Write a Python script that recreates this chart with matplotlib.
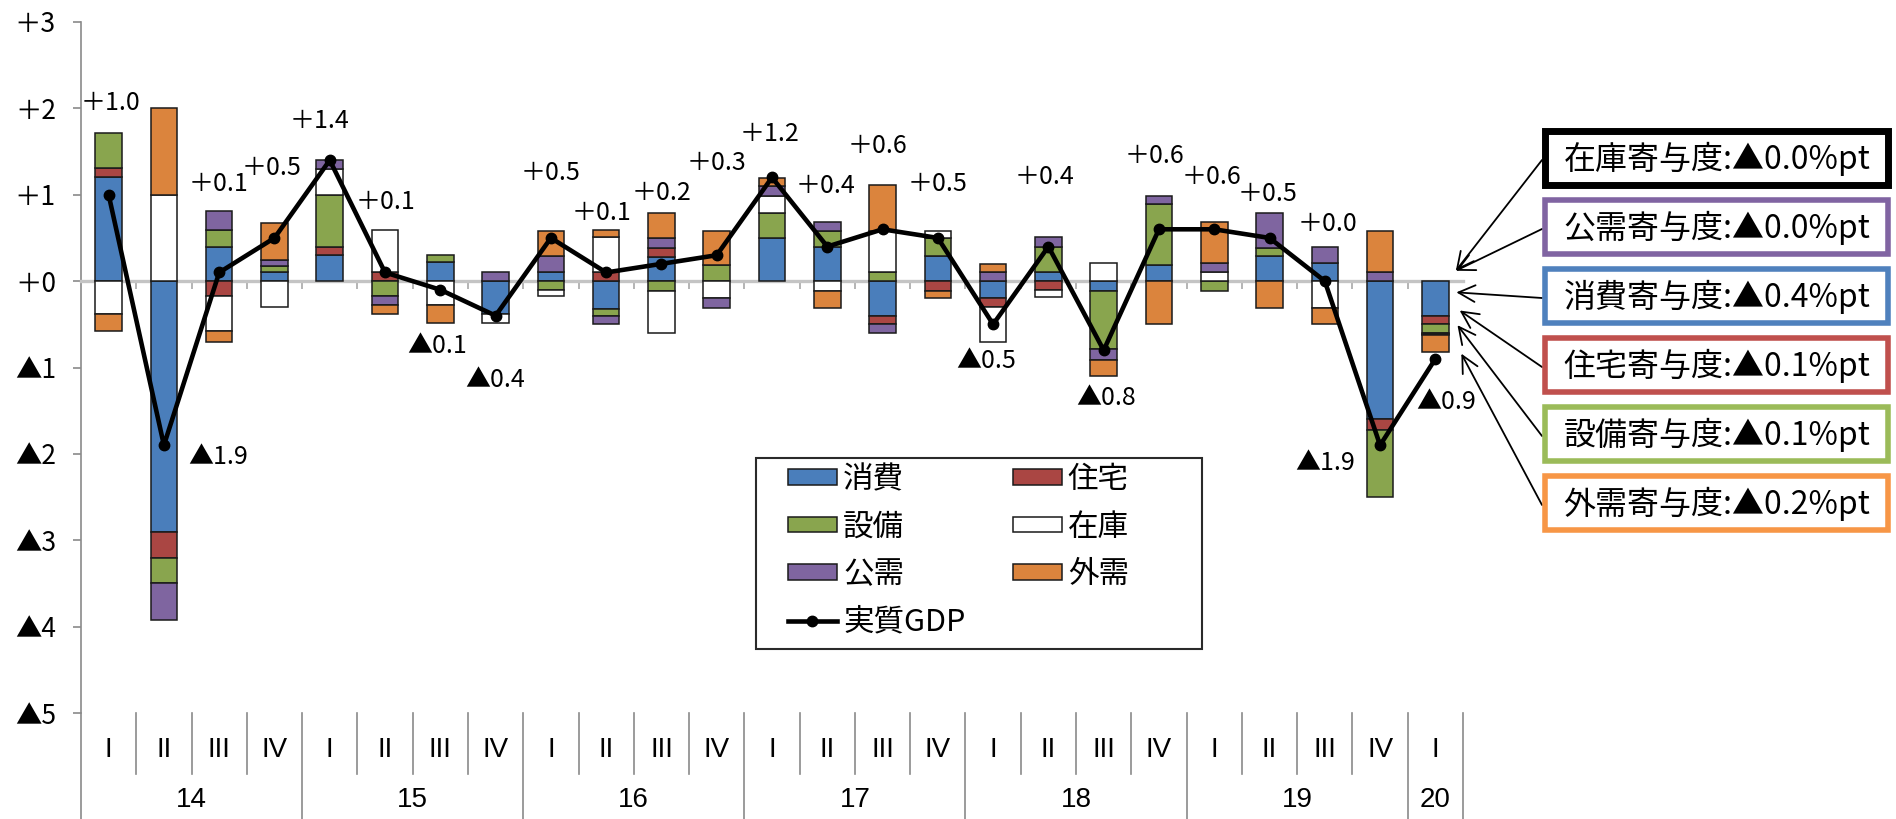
"""Real GDP growth (q/q) and contributions by demand component, 2014 I - 2020 I."""

import numpy as np
import matplotlib.pyplot as plt
from matplotlib.patches import Patch, Rectangle
from matplotlib.lines import Line2D

plt.rcParams['font.family'] = ['Liberation Sans', 'Noto Sans CJK JP', 'DejaVu Sans']

quarters = ['I', 'II', 'III', 'IV'] * 6 + ['I']
years = ['14', '15', '16', '17', '18', '19', '20']
year_spans = [4, 4, 4, 4, 4, 4, 1]

# contribution to q/q growth, %pt
consumption = [1.2, -2.9, 0.4, 0.1, 0.3, 0.0, 0.22, -0.38, 0.1, -0.32, 0.28, 0.0,
               0.5, 0.39, -0.4, 0.29, -0.2, 0.1, -0.12, 0.19, 0.0, 0.29, 0.21, -1.6, -0.4]
housing = [0.11, -0.3, -0.17, 0.0, 0.1, 0.1, 0.0, 0.0, 0.0, 0.1, 0.1, 0.0,
           0.0, 0.0, -0.1, -0.12, -0.1, -0.1, 0.0, 0.0, 0.0, 0.0, 0.0, -0.12, -0.1]
equipment = [0.41, -0.3, 0.19, 0.08, 0.6, -0.17, 0.08, 0.0, -0.1, -0.08, -0.12, 0.19,
             0.29, 0.19, 0.1, 0.21, 0.0, 0.29, -0.67, 0.7, -0.12, 0.09, 0.0, -0.78, -0.1]
inventory = [-0.38, 1.0, -0.41, -0.3, 0.3, 0.49, -0.28, -0.1, -0.07, 0.41, -0.48, -0.19,
             0.19, -0.12, 0.48, 0.08, -0.4, -0.08, 0.21, 0.0, 0.1, 0.0, -0.31, 0.0, -0.01]
public = [0.0, -0.42, 0.22, 0.07, 0.1, -0.11, 0.0, 0.11, 0.19, -0.1, 0.12, -0.12,
          0.12, 0.11, -0.1, 0.0, 0.1, 0.12, -0.12, 0.1, 0.11, 0.41, 0.18, 0.1, -0.01]
external = [-0.2, 1.0, -0.12, 0.42, 0.0, -0.1, -0.2, 0.0, 0.29, 0.08, 0.29, 0.39,
            0.09, -0.19, 0.53, -0.07, 0.1, 0.0, -0.19, -0.5, 0.48, -0.31, -0.19, 0.48, -0.2]

# real GDP, q/q %
gdp = [1.0, -1.9, 0.1, 0.5, 1.4, 0.1, -0.1, -0.4, 0.5, 0.1, 0.2, 0.3,
       1.2, 0.4, 0.6, 0.5, -0.5, 0.4, -0.8, 0.6, 0.6, 0.5, 0.0, -1.9, -0.9]

series = [consumption, housing, equipment, inventory, public, external]
series_names = ['消費', '住宅', '設備', '在庫', '公需', '外需']
series_colors = ['#4a7ebb', '#aa4643', '#89a54e', '#ffffff', '#7f65a0', '#db843d']

# where each GDP label sits relative to its point (data units)
label_offsets = [(0.04, 1.06), (0.98, -0.14), (-0.02, 1.03), (-0.06, 0.81), (-0.18, 0.45),
                 (0.01, 0.82), (-0.06, -0.65), (0.0, -0.75), (0.0, 0.75), (-0.08, 0.69),
                 (0.0, 0.82), (0.0, 1.07), (-0.04, 0.50), (-0.04, 0.70), (-0.09, 0.96),
                 (-0.01, 0.63), (-0.12, -0.42), (-0.07, 0.80), (0.05, -0.55), (-0.08, 0.85),
                 (-0.05, 0.60), (-0.04, 0.51), (0.05, 0.66), (-1.0, -0.2), (0.2, -0.5)]

W, H = 1896, 819
NUM_FONT = ['Noto Sans CJK JP', 'DejaVu Sans']
JP_FONT = ['Noto Sans CJK JP', 'DejaVu Sans']
CAT_FONT = ['Liberation Sans Narrow', 'Liberation Sans']
AXIS_GRAY = '#8a8a8a'


def fig_xy(px, py):
    """Pixel position (from top-left) to figure fraction."""
    return px / W, 1 - py / H


def fmt(v, digits=1):
    sign = '▲' if v < 0 else '＋'
    return f'{sign}{abs(v):.{digits}f}'


fig = plt.figure(figsize=(W / 100, H / 100), dpi=100)
ax = fig.add_axes([81 / W, 1 - 713 / H, (1463 - 81) / W, (713 - 22) / H])

x = np.arange(len(quarters))
pos_base = np.zeros(len(x))
neg_base = np.zeros(len(x))
for vals, color in zip(series, series_colors):
    vals = np.array(vals)
    base = np.where(vals >= 0, pos_base, neg_base)
    nz = vals != 0
    ax.bar(x[nz], vals[nz], bottom=base[nz], width=0.48, color=color,
           edgecolor='#1a1a1a', linewidth=1.1, zorder=3)
    pos_base += np.where(vals > 0, vals, 0)
    neg_base += np.where(vals < 0, vals, 0)

ax.plot(x, gdp, color='black', lw=3.3, marker='o', ms=7.5, zorder=5)

for i, (v, (dx, dy)) in enumerate(zip(gdp, label_offsets)):
    ax.text(i + dx, v + dy, fmt(v), ha='center', va='center', fontsize=18,
            family=NUM_FONT, zorder=6)

ax.set_xlim(-0.5, len(x) - 0.5)
ax.set_ylim(-5, 3)
for side in ['top', 'right']:
    ax.spines[side].set_visible(False)
ax.spines['bottom'].set_position(('data', 0))
ax.spines['bottom'].set_color('#c4c4c4')
ax.spines['bottom'].set_linewidth(2.4)
ax.spines['left'].set_color(AXIS_GRAY)
ax.spines['left'].set_linewidth(1.2)

ax.set_xticks(np.arange(0.5, len(x) - 1, 1))
ax.set_xticklabels([])
ax.tick_params(axis='x', direction='out', length=6, width=1.2, color='#a8a8a8')

yt = np.arange(-5, 4)
ax.set_yticks(yt)
ax.set_yticklabels([fmt(v, 0) for v in yt], family=NUM_FONT, fontsize=19)
ax.tick_params(axis='y', direction='out', length=6, width=1.2, color=AXIS_GRAY, pad=12)

# quarter / year category labels under the plot
trans = ax.get_xaxis_transform()
q_drop = (774 - 713) / (713 - 22)
y_drop = (819 - 713) / (713 - 22)
year_edges = np.concatenate([[0], np.cumsum(year_spans)]) - 0.5
for b in np.arange(0.5, len(x) - 1, 1):
    if b not in year_edges:
        ax.plot([b, b], [0, -q_drop], transform=trans, color=AXIS_GRAY, lw=1.2, clip_on=False)
for b in year_edges:
    ax.plot([b, b], [0, -y_drop], transform=trans, color=AXIS_GRAY, lw=1.2, clip_on=False)
for i, q in enumerate(quarters):
    ax.text(i, -(750 - 713) / (713 - 22), q, transform=trans, ha='center', va='center',
            fontsize=20, family=CAT_FONT)
for yr, lo, hi in zip(years, year_edges[:-1], year_edges[1:]):
    ax.text((lo + hi) / 2, -(800 - 713) / (713 - 22), yr, transform=trans, ha='center',
            va='center', fontsize=20, family=CAT_FONT)

# legend
patches = [Patch(facecolor=c, edgecolor='#1a1a1a', lw=1.1) for c in series_colors]
gdp_handle = Line2D([], [], color='black', lw=3.3, marker='o', ms=7.5)
handles = [patches[0], patches[2], patches[4], gdp_handle, patches[1], patches[3], patches[5]]
labels = [series_names[0], series_names[2], series_names[4], '実質GDP',
          series_names[1], series_names[3], series_names[5]]
fig.legend(handles, labels, loc='upper left', bbox_to_anchor=fig_xy(788, 464), ncol=2,
           frameon=False, prop=dict(family=JP_FONT, size=22), handlelength=1.6,
           handleheight=0.4, handletextpad=0.2, columnspacing=1.55, labelspacing=0.54,
           borderpad=0, borderaxespad=0)
fig.add_artist(Rectangle(fig_xy(756, 649), 446 / W, 191 / H, transform=fig.transFigure,
                         fill=False, edgecolor='#2a2a2a', lw=1.5))

# latest-quarter contribution call-outs
box_names = ['在庫', '公需', '消費', '住宅', '設備', '外需']
box_values = [inventory[-1], public[-1], consumption[-1], housing[-1], equipment[-1], external[-1]]
box_edges = ['#000000', '#8064a2', '#4f81bd', '#c0504d', '#9bbb59', '#f79646']
arrow_targets = [(24.37, 0.12), (24.37, 0.12), (24.38, -0.13), (24.44, -0.34),
                 (24.40, -0.51), (24.47, -0.84)]
for k, (name, v, ec, tgt) in enumerate(zip(box_names, box_values, box_edges, arrow_targets)):
    top = 128 + 69 * k
    lw = 5.0 if k == 0 else 4.0
    inset = lw * 100 / 72 / 2
    fig.add_artist(Rectangle(fig_xy(1542 + inset, top + 60 - inset), (349 - 2 * inset) / W,
                             (60 - 2 * inset) / H, transform=fig.transFigure,
                             facecolor='white', edgecolor=ec, lw=lw))
    fig.text(*fig_xy(1717, top + 31), f'{name}寄与度:{fmt(v)}%pt', ha='center', va='center',
             fontsize=23, family=JP_FONT)
    ax.annotate('', xy=tgt, xycoords='data', xytext=fig_xy(1542, top + 32),
                textcoords='figure fraction', annotation_clip=False,
                arrowprops=dict(arrowstyle='->', color='black', lw=1.3, mutation_scale=30,
                                shrinkA=0, shrinkB=0))

fig.savefig('out.png', dpi=100)
